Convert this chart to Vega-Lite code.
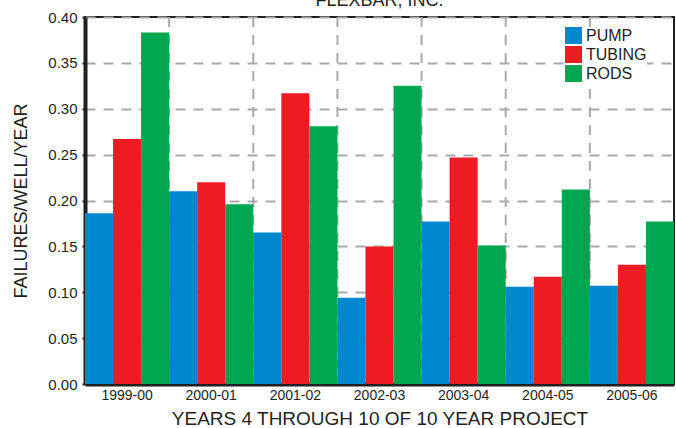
{
  "$schema": "https://vega.github.io/schema/vega-lite/v6.json",
  "width": 589,
  "height": 367,
  "autosize": {"type": "none"},
  "padding": {"left": 85, "top": 17, "right": 2, "bottom": 44},
  "background": "white",
  "title": {"text": "FLEXBAR, INC.", "font": "Liberation Sans", "fontSize": 18, "fontWeight": "normal", "color": "#231f20", "anchor": "middle", "baseline": "alphabetic", "offset": -14},
  "config": {
    "view": {"stroke": "#231f20", "strokeWidth": 2},
    "font": "Liberation Sans"
  },
  "data": {"values": [
    {"year": "1999-00", "series": "PUMP", "value": 0.186},
    {"year": "1999-00", "series": "TUBING", "value": 0.267},
    {"year": "1999-00", "series": "RODS", "value": 0.383},
    {"year": "2000-01", "series": "PUMP", "value": 0.210},
    {"year": "2000-01", "series": "TUBING", "value": 0.220},
    {"year": "2000-01", "series": "RODS", "value": 0.196},
    {"year": "2001-02", "series": "PUMP", "value": 0.165},
    {"year": "2001-02", "series": "TUBING", "value": 0.317},
    {"year": "2001-02", "series": "RODS", "value": 0.281},
    {"year": "2002-03", "series": "PUMP", "value": 0.094},
    {"year": "2002-03", "series": "TUBING", "value": 0.150},
    {"year": "2002-03", "series": "RODS", "value": 0.325},
    {"year": "2003-04", "series": "PUMP", "value": 0.177},
    {"year": "2003-04", "series": "TUBING", "value": 0.247},
    {"year": "2003-04", "series": "RODS", "value": 0.151},
    {"year": "2004-05", "series": "PUMP", "value": 0.106},
    {"year": "2004-05", "series": "TUBING", "value": 0.117},
    {"year": "2004-05", "series": "RODS", "value": 0.212},
    {"year": "2005-06", "series": "PUMP", "value": 0.107},
    {"year": "2005-06", "series": "TUBING", "value": 0.130},
    {"year": "2005-06", "series": "RODS", "value": 0.177}
  ]},
  "layer": [
    {
      "transform": [{"filter": "datum.series === 'PUMP' && datum.year !== '1999-00'"}],
      "mark": {"type": "rule", "stroke": "#a7a9ac", "strokeWidth": 2, "strokeDash": [10, 8]},
      "encoding": {
        "x": {"field": "year", "type": "nominal", "bandPosition": 0}
      }
    },
    {
      "mark": {"type": "bar"},
      "encoding": {
        "x": {
          "field": "year", "type": "nominal",
          "scale": {"paddingInner": 0, "paddingOuter": 0},
          "axis": {
            "bandPosition": 0.5,
            "title": "YEARS 4 THROUGH 10 OF 10 YEAR PROJECT",
            "titleFontSize": 19, "titleFontWeight": "normal", "titleColor": "#231f20", "titlePadding": 7,
            "labelAngle": 0, "labelAlign": "center", "labelFontSize": 14, "labelColor": "#231f20", "labelPadding": 11,
            "ticks": false, "domainColor": "#231f20", "domainWidth": 4, "grid": false
          }
        },
        "xOffset": {"field": "series", "type": "nominal", "sort": ["PUMP", "TUBING", "RODS"], "scale": {"paddingInner": 0, "paddingOuter": 0}},
        "y": {
          "field": "value", "type": "quantitative",
          "scale": {"domain": [0, 0.4], "nice": false},
          "axis": {
            "title": "FAILURES/WELL/YEAR",
            "titleFontSize": 18, "titleFontWeight": "normal", "titleColor": "#231f20", "titlePadding": 17,
            "values": [0, 0.05, 0.1, 0.15, 0.2, 0.25, 0.3, 0.35, 0.4],
            "format": ".2f", "labelFontSize": 15, "labelColor": "#231f20", "labelPadding": 5,
            "ticks": true, "tickSize": 3, "tickColor": "#231f20", "tickWidth": 2,
            "domainColor": "#231f20", "domainWidth": 4,
            "grid": true, "gridColor": "#a7a9ac", "gridWidth": 2, "gridDash": [10, 8]
          }
        },
        "color": {
          "field": "series", "type": "nominal",
          "scale": {"domain": ["PUMP", "TUBING", "RODS"], "range": ["#0088cf", "#ed1c24", "#00a650"]},
          "legend": {
            "title": null, "orient": "none", "legendX": 480, "legendY": 10,
            "symbolType": "square", "symbolSize": 289, "symbolStrokeWidth": 0, "symbolOpacity": 1,
            "labelFontSize": 16, "labelColor": "#231f20", "labelOffset": 4, "rowPadding": 2,
            "fillColor": "white"
          }
        }
      }
    }
  ]
}
